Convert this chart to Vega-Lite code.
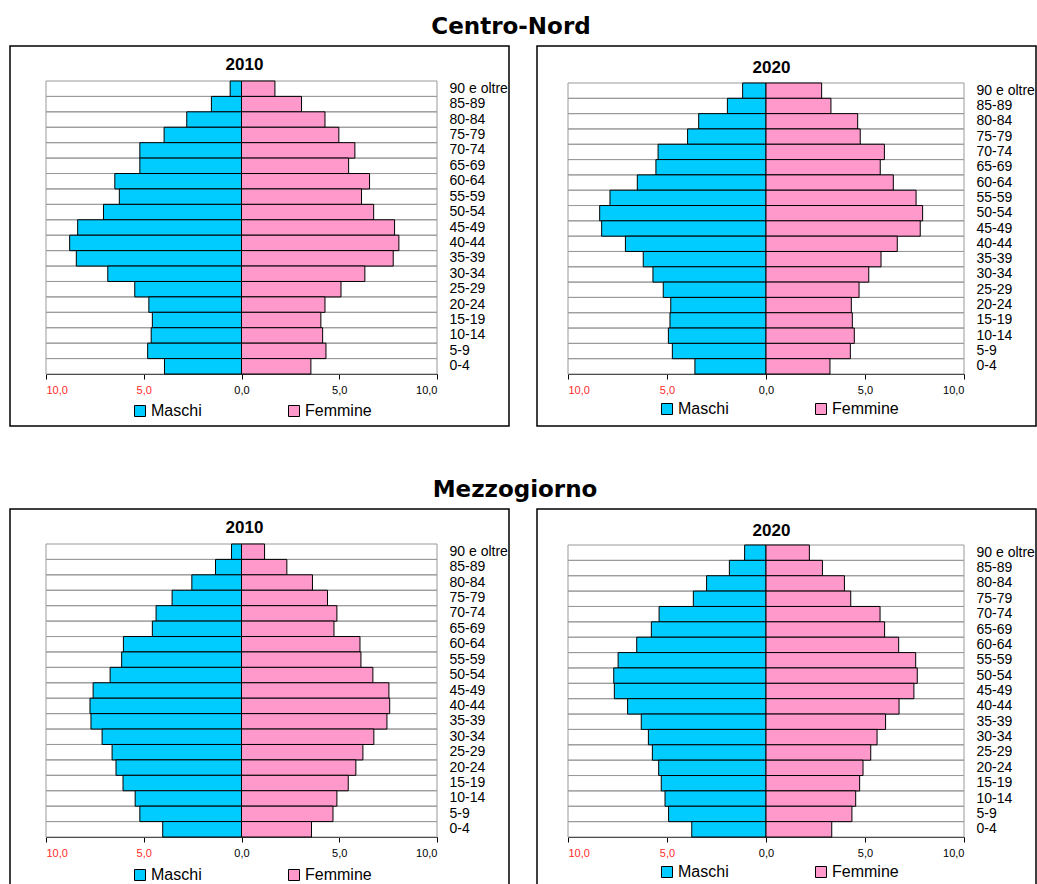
{
  "$schema": "https://vega.github.io/schema/vega-lite/v6.json",
  "padding": {"left": 9, "top": 16, "right": 0, "bottom": 0},
  "background": "white",
  "spacing": 52,
  "config": {
    "font": "Liberation Sans",
    "view": {"stroke": "black", "strokeWidth": 1.5}
  },
  "datasets": {
    "cn2010": [
      {"age": "90 e oltre", "sex": "Maschi", "pct": -0.58}, {"age": "90 e oltre", "sex": "Femmine", "pct": 1.71},
      {"age": "85-89", "sex": "Maschi", "pct": -1.54}, {"age": "85-89", "sex": "Femmine", "pct": 3.07},
      {"age": "80-84", "sex": "Maschi", "pct": -2.80}, {"age": "80-84", "sex": "Femmine", "pct": 4.27},
      {"age": "75-79", "sex": "Maschi", "pct": -3.96}, {"age": "75-79", "sex": "Femmine", "pct": 4.98},
      {"age": "70-74", "sex": "Maschi", "pct": -5.20}, {"age": "70-74", "sex": "Femmine", "pct": 5.80},
      {"age": "65-69", "sex": "Maschi", "pct": -5.20}, {"age": "65-69", "sex": "Femmine", "pct": 5.48},
      {"age": "60-64", "sex": "Maschi", "pct": -6.48}, {"age": "60-64", "sex": "Femmine", "pct": 6.55},
      {"age": "55-59", "sex": "Maschi", "pct": -6.25}, {"age": "55-59", "sex": "Femmine", "pct": 6.14},
      {"age": "50-54", "sex": "Maschi", "pct": -7.06}, {"age": "50-54", "sex": "Femmine", "pct": 6.76},
      {"age": "45-49", "sex": "Maschi", "pct": -8.38}, {"age": "45-49", "sex": "Femmine", "pct": 7.83},
      {"age": "40-44", "sex": "Maschi", "pct": -8.79}, {"age": "40-44", "sex": "Femmine", "pct": 8.05},
      {"age": "35-39", "sex": "Maschi", "pct": -8.45}, {"age": "35-39", "sex": "Femmine", "pct": 7.76},
      {"age": "30-34", "sex": "Maschi", "pct": -6.84}, {"age": "30-34", "sex": "Femmine", "pct": 6.31},
      {"age": "25-29", "sex": "Maschi", "pct": -5.46}, {"age": "25-29", "sex": "Femmine", "pct": 5.09},
      {"age": "20-24", "sex": "Maschi", "pct": -4.74}, {"age": "20-24", "sex": "Femmine", "pct": 4.27},
      {"age": "15-19", "sex": "Maschi", "pct": -4.56}, {"age": "15-19", "sex": "Femmine", "pct": 4.06},
      {"age": "10-14", "sex": "Maschi", "pct": -4.62}, {"age": "10-14", "sex": "Femmine", "pct": 4.15},
      {"age": "5-9", "sex": "Maschi", "pct": -4.80}, {"age": "5-9", "sex": "Femmine", "pct": 4.32},
      {"age": "0-4", "sex": "Maschi", "pct": -3.94}, {"age": "0-4", "sex": "Femmine", "pct": 3.55}
    ],
    "cn2020": [
      {"age": "90 e oltre", "sex": "Maschi", "pct": -1.18}, {"age": "90 e oltre", "sex": "Femmine", "pct": 2.81},
      {"age": "85-89", "sex": "Maschi", "pct": -1.95}, {"age": "85-89", "sex": "Femmine", "pct": 3.28},
      {"age": "80-84", "sex": "Maschi", "pct": -3.40}, {"age": "80-84", "sex": "Femmine", "pct": 4.63},
      {"age": "75-79", "sex": "Maschi", "pct": -3.96}, {"age": "75-79", "sex": "Femmine", "pct": 4.76},
      {"age": "70-74", "sex": "Maschi", "pct": -5.45}, {"age": "70-74", "sex": "Femmine", "pct": 5.98},
      {"age": "65-69", "sex": "Maschi", "pct": -5.56}, {"age": "65-69", "sex": "Femmine", "pct": 5.77},
      {"age": "60-64", "sex": "Maschi", "pct": -6.50}, {"age": "60-64", "sex": "Femmine", "pct": 6.43},
      {"age": "55-59", "sex": "Maschi", "pct": -7.88}, {"age": "55-59", "sex": "Femmine", "pct": 7.58},
      {"age": "50-54", "sex": "Maschi", "pct": -8.40}, {"age": "50-54", "sex": "Femmine", "pct": 7.91},
      {"age": "45-49", "sex": "Maschi", "pct": -8.30}, {"age": "45-49", "sex": "Femmine", "pct": 7.79},
      {"age": "40-44", "sex": "Maschi", "pct": -7.10}, {"age": "40-44", "sex": "Femmine", "pct": 6.63},
      {"age": "35-39", "sex": "Maschi", "pct": -6.20}, {"age": "35-39", "sex": "Femmine", "pct": 5.81},
      {"age": "30-34", "sex": "Maschi", "pct": -5.71}, {"age": "30-34", "sex": "Femmine", "pct": 5.19},
      {"age": "25-29", "sex": "Maschi", "pct": -5.19}, {"age": "25-29", "sex": "Femmine", "pct": 4.70},
      {"age": "20-24", "sex": "Maschi", "pct": -4.81}, {"age": "20-24", "sex": "Femmine", "pct": 4.31},
      {"age": "15-19", "sex": "Maschi", "pct": -4.85}, {"age": "15-19", "sex": "Femmine", "pct": 4.36},
      {"age": "10-14", "sex": "Maschi", "pct": -4.93}, {"age": "10-14", "sex": "Femmine", "pct": 4.46},
      {"age": "5-9", "sex": "Maschi", "pct": -4.73}, {"age": "5-9", "sex": "Femmine", "pct": 4.26},
      {"age": "0-4", "sex": "Maschi", "pct": -3.59}, {"age": "0-4", "sex": "Femmine", "pct": 3.23}
    ],
    "mz2010": [
      {"age": "90 e oltre", "sex": "Maschi", "pct": -0.51}, {"age": "90 e oltre", "sex": "Femmine", "pct": 1.18},
      {"age": "85-89", "sex": "Maschi", "pct": -1.33}, {"age": "85-89", "sex": "Femmine", "pct": 2.32},
      {"age": "80-84", "sex": "Maschi", "pct": -2.54}, {"age": "80-84", "sex": "Femmine", "pct": 3.63},
      {"age": "75-79", "sex": "Maschi", "pct": -3.55}, {"age": "75-79", "sex": "Femmine", "pct": 4.40},
      {"age": "70-74", "sex": "Maschi", "pct": -4.37}, {"age": "70-74", "sex": "Femmine", "pct": 4.88},
      {"age": "65-69", "sex": "Maschi", "pct": -4.56}, {"age": "65-69", "sex": "Femmine", "pct": 4.73},
      {"age": "60-64", "sex": "Maschi", "pct": -6.04}, {"age": "60-64", "sex": "Femmine", "pct": 6.06},
      {"age": "55-59", "sex": "Maschi", "pct": -6.13}, {"age": "55-59", "sex": "Femmine", "pct": 6.11},
      {"age": "50-54", "sex": "Maschi", "pct": -6.72}, {"age": "50-54", "sex": "Femmine", "pct": 6.72},
      {"age": "45-49", "sex": "Maschi", "pct": -7.59}, {"age": "45-49", "sex": "Femmine", "pct": 7.54},
      {"age": "40-44", "sex": "Maschi", "pct": -7.75}, {"age": "40-44", "sex": "Femmine", "pct": 7.58},
      {"age": "35-39", "sex": "Maschi", "pct": -7.70}, {"age": "35-39", "sex": "Femmine", "pct": 7.44},
      {"age": "30-34", "sex": "Maschi", "pct": -7.13}, {"age": "30-34", "sex": "Femmine", "pct": 6.77},
      {"age": "25-29", "sex": "Maschi", "pct": -6.62}, {"age": "25-29", "sex": "Femmine", "pct": 6.21},
      {"age": "20-24", "sex": "Maschi", "pct": -6.42}, {"age": "20-24", "sex": "Femmine", "pct": 5.85},
      {"age": "15-19", "sex": "Maschi", "pct": -6.06}, {"age": "15-19", "sex": "Femmine", "pct": 5.46},
      {"age": "10-14", "sex": "Maschi", "pct": -5.44}, {"age": "10-14", "sex": "Femmine", "pct": 4.88},
      {"age": "5-9", "sex": "Maschi", "pct": -5.20}, {"age": "5-9", "sex": "Femmine", "pct": 4.68},
      {"age": "0-4", "sex": "Maschi", "pct": -4.03}, {"age": "0-4", "sex": "Femmine", "pct": 3.58}
    ],
    "mz2020": [
      {"age": "90 e oltre", "sex": "Maschi", "pct": -1.08}, {"age": "90 e oltre", "sex": "Femmine", "pct": 2.19},
      {"age": "85-89", "sex": "Maschi", "pct": -1.85}, {"age": "85-89", "sex": "Femmine", "pct": 2.85},
      {"age": "80-84", "sex": "Maschi", "pct": -3.00}, {"age": "80-84", "sex": "Femmine", "pct": 3.96},
      {"age": "75-79", "sex": "Maschi", "pct": -3.67}, {"age": "75-79", "sex": "Femmine", "pct": 4.28},
      {"age": "70-74", "sex": "Maschi", "pct": -5.40}, {"age": "70-74", "sex": "Femmine", "pct": 5.76},
      {"age": "65-69", "sex": "Maschi", "pct": -5.79}, {"age": "65-69", "sex": "Femmine", "pct": 5.99},
      {"age": "60-64", "sex": "Maschi", "pct": -6.53}, {"age": "60-64", "sex": "Femmine", "pct": 6.70},
      {"age": "55-59", "sex": "Maschi", "pct": -7.47}, {"age": "55-59", "sex": "Femmine", "pct": 7.56},
      {"age": "50-54", "sex": "Maschi", "pct": -7.69}, {"age": "50-54", "sex": "Femmine", "pct": 7.64},
      {"age": "45-49", "sex": "Maschi", "pct": -7.66}, {"age": "45-49", "sex": "Femmine", "pct": 7.47},
      {"age": "40-44", "sex": "Maschi", "pct": -6.99}, {"age": "40-44", "sex": "Femmine", "pct": 6.72},
      {"age": "35-39", "sex": "Maschi", "pct": -6.30}, {"age": "35-39", "sex": "Femmine", "pct": 6.04},
      {"age": "30-34", "sex": "Maschi", "pct": -5.94}, {"age": "30-34", "sex": "Femmine", "pct": 5.61},
      {"age": "25-29", "sex": "Maschi", "pct": -5.74}, {"age": "25-29", "sex": "Femmine", "pct": 5.29},
      {"age": "20-24", "sex": "Maschi", "pct": -5.42}, {"age": "20-24", "sex": "Femmine", "pct": 4.90},
      {"age": "15-19", "sex": "Maschi", "pct": -5.29}, {"age": "15-19", "sex": "Femmine", "pct": 4.73},
      {"age": "10-14", "sex": "Maschi", "pct": -5.10}, {"age": "10-14", "sex": "Femmine", "pct": 4.53},
      {"age": "5-9", "sex": "Maschi", "pct": -4.92}, {"age": "5-9", "sex": "Femmine", "pct": 4.34},
      {"age": "0-4", "sex": "Maschi", "pct": -3.75}, {"age": "0-4", "sex": "Femmine", "pct": 3.32}
    ]
  },
  "vconcat": [
    {
      "title": {"text": "Centro-Nord", "font": "DejaVu Sans", "fontSize": 23, "fontWeight": "bold", "anchor": "middle", "dx": -12, "offset": 6, "color": "black"},
      "spacing": 26,
      "resolve": {"scale": {"color": "independent", "x": "independent", "y": "independent"}},
      "hconcat": [
        {
          "width": 499, "height": 380,
          "title": {"text": "2010", "font": "Liberation Sans", "fontSize": 17, "fontWeight": "bold", "anchor": "middle", "dx": -15, "offset": -41, "baseline": "alphabetic", "color": "black"},
          "data": {"name": "cn2010"},
          "encoding": {
            "y": {"field": "age", "type": "nominal", "sort": null,
              "scale": {"domain": ["90 e oltre", "85-89", "80-84", "75-79", "70-74", "65-69", "60-64", "55-59", "50-54", "45-49", "40-44", "35-39", "30-34", "25-29", "20-24", "15-19", "10-14", "5-9", "0-4"], "range": [35, 328], "paddingInner": 0, "paddingOuter": 0},
              "axis": {"orient": "right", "offset": -72, "title": null, "domain": false, "ticks": false, "labelPadding": 12, "labelFontSize": 14, "labelColor": "black", "labelFont": "Liberation Sans"}}
          },
          "layer": [
            {"transform": [{"filter": "datum.sex == 'Maschi'"}],
             "mark": {"type": "rect", "fill": "transparent", "stroke": "#999999", "strokeWidth": 1},
             "encoding": {"x": {"datum": -10, "type": "quantitative"}, "x2": {"datum": 10}}},
            {"mark": {"type": "bar", "stroke": "black", "strokeWidth": 1},
             "encoding": {
               "x": {"field": "pct", "type": "quantitative",
                 "scale": {"domain": [-10, 10], "range": [36, 427], "nice": false},
                 "axis": {"offset": -52, "title": null, "grid": false, "values": [-10, -5, 0, 5, 10], "labelExpr": "replace(format(abs(datum.value), '.1f'), '.', ',')", "labelColor": {"condition": {"test": "datum.value < 0", "value": "#ff2a2a"}, "value": "black"}, "labelFontSize": 11, "labelPadding": 5, "tickSize": 5, "tickColor": "black", "domainColor": "black", "labelFont": "Liberation Sans"}},
               "color": {"field": "sex", "type": "nominal",
                 "scale": {"domain": ["Maschi", "Femmine"], "range": ["#00ccff", "#ff99cc"]},
                 "legend": {"orient": "none", "legendX": 122, "legendY": 357, "direction": "horizontal", "title": null, "symbolType": "square", "symbolSize": 121, "symbolStrokeColor": "black", "symbolStrokeWidth": 1, "symbolOpacity": 1, "labelFontSize": 16, "labelFont": "Liberation Sans", "labelColor": "black", "labelOffset": 3, "columnPadding": 84}}
             }}
          ]
        },
        {
          "width": 499, "height": 380,
          "title": {"text": "2020", "font": "Liberation Sans", "fontSize": 17, "fontWeight": "bold", "anchor": "middle", "dx": -15, "offset": -44, "baseline": "alphabetic", "color": "black"},
          "data": {"name": "cn2020"},
          "encoding": {
            "y": {"field": "age", "type": "nominal", "sort": null,
              "scale": {"domain": ["90 e oltre", "85-89", "80-84", "75-79", "70-74", "65-69", "60-64", "55-59", "50-54", "45-49", "40-44", "35-39", "30-34", "25-29", "20-24", "15-19", "10-14", "5-9", "0-4"], "range": [37, 328], "paddingInner": 0, "paddingOuter": 0},
              "axis": {"orient": "right", "offset": -72, "title": null, "domain": false, "ticks": false, "labelPadding": 12, "labelFontSize": 14, "labelColor": "black", "labelFont": "Liberation Sans"}}
          },
          "layer": [
            {"transform": [{"filter": "datum.sex == 'Maschi'"}],
             "mark": {"type": "rect", "fill": "transparent", "stroke": "#999999", "strokeWidth": 1},
             "encoding": {"x": {"datum": -10, "type": "quantitative"}, "x2": {"datum": 10}}},
            {"mark": {"type": "bar", "stroke": "black", "strokeWidth": 1},
             "encoding": {
               "x": {"field": "pct", "type": "quantitative",
                 "scale": {"domain": [-10, 10], "range": [31, 427], "nice": false},
                 "axis": {"offset": -52, "title": null, "grid": false, "values": [-10, -5, 0, 5, 10], "labelExpr": "replace(format(abs(datum.value), '.1f'), '.', ',')", "labelColor": {"condition": {"test": "datum.value < 0", "value": "#ff2a2a"}, "value": "black"}, "labelFontSize": 11, "labelPadding": 5, "tickSize": 5, "tickColor": "black", "domainColor": "black", "labelFont": "Liberation Sans"}},
               "color": {"field": "sex", "type": "nominal",
                 "scale": {"domain": ["Maschi", "Femmine"], "range": ["#00ccff", "#ff99cc"]},
                 "legend": {"orient": "none", "legendX": 122, "legendY": 355, "direction": "horizontal", "title": null, "symbolType": "square", "symbolSize": 121, "symbolStrokeColor": "black", "symbolStrokeWidth": 1, "symbolOpacity": 1, "labelFontSize": 16, "labelFont": "Liberation Sans", "labelColor": "black", "labelOffset": 3, "columnPadding": 84}}
             }}
          ]
        }
      ]
    },
    {
      "title": {"text": "Mezzogiorno", "font": "DejaVu Sans", "fontSize": 23, "fontWeight": "bold", "anchor": "middle", "dx": -8, "offset": 6, "color": "black"},
      "spacing": 26,
      "resolve": {"scale": {"color": "independent", "x": "independent", "y": "independent"}},
      "hconcat": [
        {
          "width": 499, "height": 380,
          "title": {"text": "2010", "font": "Liberation Sans", "fontSize": 17, "fontWeight": "bold", "anchor": "middle", "dx": -15, "offset": -41, "baseline": "alphabetic", "color": "black"},
          "data": {"name": "mz2010"},
          "encoding": {
            "y": {"field": "age", "type": "nominal", "sort": null,
              "scale": {"domain": ["90 e oltre", "85-89", "80-84", "75-79", "70-74", "65-69", "60-64", "55-59", "50-54", "45-49", "40-44", "35-39", "30-34", "25-29", "20-24", "15-19", "10-14", "5-9", "0-4"], "range": [35, 328], "paddingInner": 0, "paddingOuter": 0},
              "axis": {"orient": "right", "offset": -72, "title": null, "domain": false, "ticks": false, "labelPadding": 12, "labelFontSize": 14, "labelColor": "black", "labelFont": "Liberation Sans"}}
          },
          "layer": [
            {"transform": [{"filter": "datum.sex == 'Maschi'"}],
             "mark": {"type": "rect", "fill": "transparent", "stroke": "#999999", "strokeWidth": 1},
             "encoding": {"x": {"datum": -10, "type": "quantitative"}, "x2": {"datum": 10}}},
            {"mark": {"type": "bar", "stroke": "black", "strokeWidth": 1},
             "encoding": {
               "x": {"field": "pct", "type": "quantitative",
                 "scale": {"domain": [-10, 10], "range": [36, 427], "nice": false},
                 "axis": {"offset": -52, "title": null, "grid": false, "values": [-10, -5, 0, 5, 10], "labelExpr": "replace(format(abs(datum.value), '.1f'), '.', ',')", "labelColor": {"condition": {"test": "datum.value < 0", "value": "#ff2a2a"}, "value": "black"}, "labelFontSize": 11, "labelPadding": 5, "tickSize": 5, "tickColor": "black", "domainColor": "black", "labelFont": "Liberation Sans"}},
               "color": {"field": "sex", "type": "nominal",
                 "scale": {"domain": ["Maschi", "Femmine"], "range": ["#00ccff", "#ff99cc"]},
                 "legend": {"orient": "none", "legendX": 122, "legendY": 358, "direction": "horizontal", "title": null, "symbolType": "square", "symbolSize": 121, "symbolStrokeColor": "black", "symbolStrokeWidth": 1, "symbolOpacity": 1, "labelFontSize": 16, "labelFont": "Liberation Sans", "labelColor": "black", "labelOffset": 3, "columnPadding": 84}}
             }}
          ]
        },
        {
          "width": 499, "height": 380,
          "title": {"text": "2020", "font": "Liberation Sans", "fontSize": 17, "fontWeight": "bold", "anchor": "middle", "dx": -15, "offset": -44, "baseline": "alphabetic", "color": "black"},
          "data": {"name": "mz2020"},
          "encoding": {
            "y": {"field": "age", "type": "nominal", "sort": null,
              "scale": {"domain": ["90 e oltre", "85-89", "80-84", "75-79", "70-74", "65-69", "60-64", "55-59", "50-54", "45-49", "40-44", "35-39", "30-34", "25-29", "20-24", "15-19", "10-14", "5-9", "0-4"], "range": [36, 328], "paddingInner": 0, "paddingOuter": 0},
              "axis": {"orient": "right", "offset": -72, "title": null, "domain": false, "ticks": false, "labelPadding": 12, "labelFontSize": 14, "labelColor": "black", "labelFont": "Liberation Sans"}}
          },
          "layer": [
            {"transform": [{"filter": "datum.sex == 'Maschi'"}],
             "mark": {"type": "rect", "fill": "transparent", "stroke": "#999999", "strokeWidth": 1},
             "encoding": {"x": {"datum": -10, "type": "quantitative"}, "x2": {"datum": 10}}},
            {"mark": {"type": "bar", "stroke": "black", "strokeWidth": 1},
             "encoding": {
               "x": {"field": "pct", "type": "quantitative",
                 "scale": {"domain": [-10, 10], "range": [31, 427], "nice": false},
                 "axis": {"offset": -52, "title": null, "grid": false, "values": [-10, -5, 0, 5, 10], "labelExpr": "replace(format(abs(datum.value), '.1f'), '.', ',')", "labelColor": {"condition": {"test": "datum.value < 0", "value": "#ff2a2a"}, "value": "black"}, "labelFontSize": 11, "labelPadding": 5, "tickSize": 5, "tickColor": "black", "domainColor": "black", "labelFont": "Liberation Sans"}},
               "color": {"field": "sex", "type": "nominal",
                 "scale": {"domain": ["Maschi", "Femmine"], "range": ["#00ccff", "#ff99cc"]},
                 "legend": {"orient": "none", "legendX": 122, "legendY": 355, "direction": "horizontal", "title": null, "symbolType": "square", "symbolSize": 121, "symbolStrokeColor": "black", "symbolStrokeWidth": 1, "symbolOpacity": 1, "labelFontSize": 16, "labelFont": "Liberation Sans", "labelColor": "black", "labelOffset": 3, "columnPadding": 84}}
             }}
          ]
        }
      ]
    }
  ],
  "resolve": {"scale": {"color": "independent"}}
}
